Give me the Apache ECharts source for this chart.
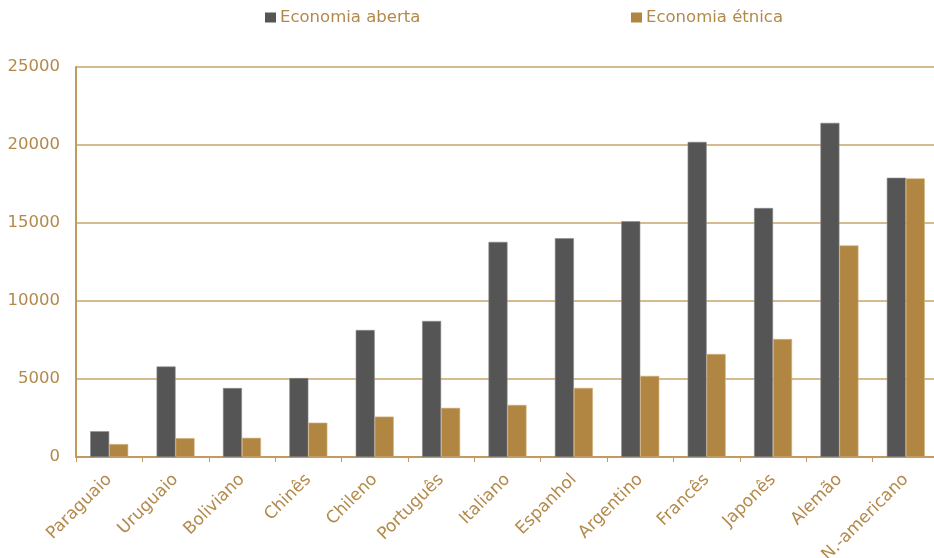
<!DOCTYPE html>
<html>
<head>
<meta charset="utf-8">
<script src="https://cdn.jsdelivr.net/npm/echarts@6/dist/echarts.min.js"></script>
<style>html,body{margin:0;padding:0;background:#fff;overflow:hidden}#c{width:934px;height:558px}</style>
</head>
<body>
<div id="c"></div>
<script>
const categories = ['Paraguaio','Uruguaio','Boliviano','Chinês','Chileno','Português','Italiano','Espanhol','Argentino','Francês','Japonês','Alemão','N.-americano'];
const aberta = [1650, 5800, 4420, 5060, 8140, 8720, 13790, 14020, 15110, 20200, 15960, 21420, 17900];
const etnica = [830, 1210, 1230, 2200, 2590, 3150, 3340, 4430, 5200, 6600, 7560, 13560, 17860];
const yTicks = [0, 5000, 10000, 15000, 20000, 25000];

const textColor = '#B3894A';
const lineColor = '#C19B5E';
const font = 'DejaVu Sans';
const legendText = {color: textColor, fontFamily: font, fontSize: 16.5, padding: [0, 0, 0, -1]};
const chart = echarts.init(document.getElementById('c'));
chart.setOption({
  animation: false,
  backgroundColor: '#fff',
  legend: [
    {data: ['Economia aberta'], left: 265, top: 9, padding: 0, itemWidth: 11, itemHeight: 10, itemGap: 0,
     textStyle: legendText, icon: 'rect', itemStyle: {borderWidth: 0}},
    {data: ['Economia étnica'], left: 631, top: 9, padding: 0, itemWidth: 11, itemHeight: 10, itemGap: 0,
     textStyle: legendText, icon: 'rect', itemStyle: {borderWidth: 0}}
  ],
  grid: {left: 76, right: -5, top: 67, bottom: 101, containLabel: false, outerBoundsMode: 'none'},
  xAxis: {
    type: 'category', data: categories,
    axisLine: {lineStyle: {color: lineColor, width: 2}},
    axisTick: {show: true, length: 5, lineStyle: {color: lineColor, width: 1}},
    axisLabel: {rotate: 45, color: textColor, fontFamily: font, fontSize: 17, margin: 20, interval: 0}
  },
  yAxis: {
    type: 'value', min: yTicks[0], max: yTicks[yTicks.length-1], interval: 5000,
    axisLine: {show: true, lineStyle: {color: lineColor, width: 2}},
    axisTick: {show: false},
    splitLine: {lineStyle: {color: '#C8A46C', width: 1.5}},
    axisLabel: {color: textColor, fontFamily: font, fontSize: 16.5, margin: 16, formatter: v => String(v)}
  },
  series: [
    {name: 'Economia aberta', type: 'bar', data: aberta, barWidth: 19, barGap: '0%',
     itemStyle: {color: '#555555', borderColor: '#8a8a8a', borderWidth: 0.6}},
    {name: 'Economia étnica', type: 'bar', data: etnica, barWidth: 19,
     itemStyle: {color: '#B08642', borderColor: '#D2B07C', borderWidth: 0.6}}
  ]
});
</script>
</body>
</html>
